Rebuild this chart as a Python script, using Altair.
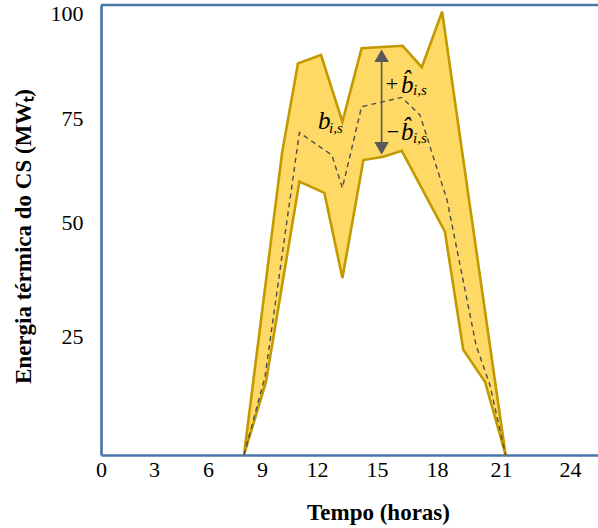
import altair as alt
import pandas as pd

# ---- data ----
upper_hours = [8.0, 10.1, 10.96, 12.2, 13.27, 14.23, 16.28, 17.24, 18.24, 21.2]
upper_vals = [0.0, 66.8, 88.0, 90.0, 74.1, 91.6, 92.2, 87.1, 100.3, 0.0]

lower_hours = [8.0, 9.22, 11.04, 12.37, 13.27, 14.32, 15.32, 16.24, 18.37, 19.23, 20.25, 21.2]
lower_vals = [0.0, 15.4, 59.7, 57.0, 37.7, 64.9, 65.7, 67.1, 47.9, 22.1, 15.4, 0.0]

mean_hours = [8.0, 9.16, 11.04, 12.74, 13.27, 14.23, 16.24, 17.15, 18.47, 19.83, 20.48, 21.2]
mean_vals = [0.0, 16.4, 71.5, 66.1, 58.2, 77.7, 79.9, 75.7, 55.3, 23.1, 14.7, 0.0]

# deviation arrow (+b̂ / -b̂)
arrow_hour = 15.23
arrow_top = 89.8
arrow_bottom = 67.7

# annotation texts
sign_texts = ["+", "\u2212"]
sign_hours = [15.75, 15.8]
sign_vals = [83.1, 71.6]

b_texts = ["b\u0302", "b\u0302", "b"]
b_hours = [16.2, 16.2, 12.05]
b_vals = [80.95, 69.7, 72.4]

sub_texts = ["i,s", "i,s", "i,s"]
sub_hours = [16.8, 16.8, 12.6]
sub_vals = [80.5, 69.0, 71.4]

x_ticks = [0, 3, 6, 9, 12, 15, 18, 21, 24]
y_ticks = [25, 50, 75, 100]

# ---- tables ----
rows = []
order = 0
for h, v in zip(upper_hours, upper_vals):
    rows.append({"layer": "band", "hour": h, "value": v, "order": order}); order += 1
for h, v in zip(reversed(lower_hours), reversed(lower_vals)):
    rows.append({"layer": "band", "hour": h, "value": v, "order": order}); order += 1
for i, (h, v) in enumerate(zip(mean_hours, mean_vals)):
    rows.append({"layer": "mean", "hour": h, "value": v, "order": i})
rows.append({"layer": "arrow", "hour": arrow_hour, "value": arrow_top, "value2": arrow_bottom})
rows.append({"layer": "tri_up", "hour": arrow_hour, "value": arrow_top})
rows.append({"layer": "tri_down", "hour": arrow_hour, "value": arrow_bottom})
for t, h, v in zip(sign_texts, sign_hours, sign_vals):
    rows.append({"layer": "sign", "hour": h, "value": v, "label": t})
for t, h, v in zip(b_texts, b_hours, b_vals):
    rows.append({"layer": "b", "hour": h, "value": v, "label": t})
for t, h, v in zip(sub_texts, sub_hours, sub_vals):
    rows.append({"layer": "sub", "hour": h, "value": v, "label": t})
df = pd.DataFrame(rows)

FRAME = "#4a76a8"
SERIF = "Liberation Serif, Times New Roman, serif"

xscale = alt.Scale(domain=[0, 3, 6, 9, 12, 15, 18, 21, 24, 25.2],
                   range=[0, 53, 107, 161, 216, 276, 336, 400, 469, 497],
                   nice=False, zero=False)
yscale = alt.Scale(domain=[0, 25, 50, 75, 100, 101.9],
                   range=[450, 331, 217, 113, 8, 0],
                   nice=False, zero=False)

xaxis = alt.Axis(values=x_ticks, title="Tempo (horas)", grid=False, ticks=False,
                 domainColor=FRAME, domainWidth=2.7, labelFlush=False,
                 labelAlign="center", labelBaseline="top",
                 labelFont=SERIF, labelFontSize=22, labelColor="black", labelPadding=4,
                 titleFont=SERIF, titleFontSize=23, titleFontWeight="bold", titleColor="black",
                 titleX=277, titleY=57, titleBaseline="middle", titleAlign="center")
yaxis = alt.Axis(values=y_ticks, title="Energia térmica do CS (MW\u209c)", grid=False, ticks=False,
                 domainColor=FRAME, domainWidth=2.7, labelFlush=False,
                 labelAlign="right", labelBaseline="middle",
                 labelFont=SERIF, labelFontSize=22, labelColor="black", labelPadding=18,
                 titleFont=SERIF, titleFontSize=23, titleFontWeight="bold", titleColor="black",
                 titleX=-78, titleY=231, titleAngle=270, titleBaseline="middle", titleAlign="center")

base = alt.Chart(df).encode(
    x=alt.X("hour:Q", scale=xscale, axis=xaxis),
    y=alt.Y("value:Q", scale=yscale, axis=yaxis),
)

top_rule = alt.Chart(df).mark_rule(color=FRAME, strokeWidth=2.7).encode(
    x=alt.value(0), x2=alt.value(497), y=alt.value(0)
).transform_filter(alt.datum.layer == "arrow")

band = base.transform_filter(alt.datum.layer == "band").mark_line(
    fill="#FFD966", stroke="#C09A00", strokeWidth=2.6, strokeJoin="miter"
).encode(order="order:Q")

mean = base.transform_filter(alt.datum.layer == "mean").mark_line(
    color="#4d4d4d", strokeWidth=1.4, strokeDash=[5, 4]
).encode(order="order:Q")

arrow = base.transform_filter(alt.datum.layer == "arrow").mark_rule(
    color="#595959", strokeWidth=1.6
).encode(y2="value2:Q")

tri_up = base.transform_filter(alt.datum.layer == "tri_up").mark_point(
    shape="triangle-up", filled=True, size=210, color="#595959", opacity=1
)
tri_down = base.transform_filter(alt.datum.layer == "tri_down").mark_point(
    shape="triangle-down", filled=True, size=210, color="#595959", opacity=1
)

signs = base.transform_filter(alt.datum.layer == "sign").mark_text(
    font=SERIF, fontSize=22, align="center", baseline="middle", color="black"
).encode(text="label:N")

bs = base.transform_filter(alt.datum.layer == "b").mark_text(
    font=SERIF, fontSize=25, fontStyle="italic", align="left", baseline="alphabetic", color="black"
).encode(text="label:N")

subs = base.transform_filter(alt.datum.layer == "sub").mark_text(
    font=SERIF, fontSize=15, fontStyle="italic", align="left", baseline="alphabetic", color="black"
).encode(text="label:N")

chart = alt.layer(top_rule, band, mean, arrow, tri_up, tri_down, signs, bs, subs).properties(
    width=497, height=450,
    padding={"left": 101, "top": 5, "right": 0, "bottom": 73},
    autosize=alt.AutoSizeParams(type="none"),
).configure_view(stroke=None)

chart.save("out.html", embed_options={"renderer": "svg", "actions": False})
